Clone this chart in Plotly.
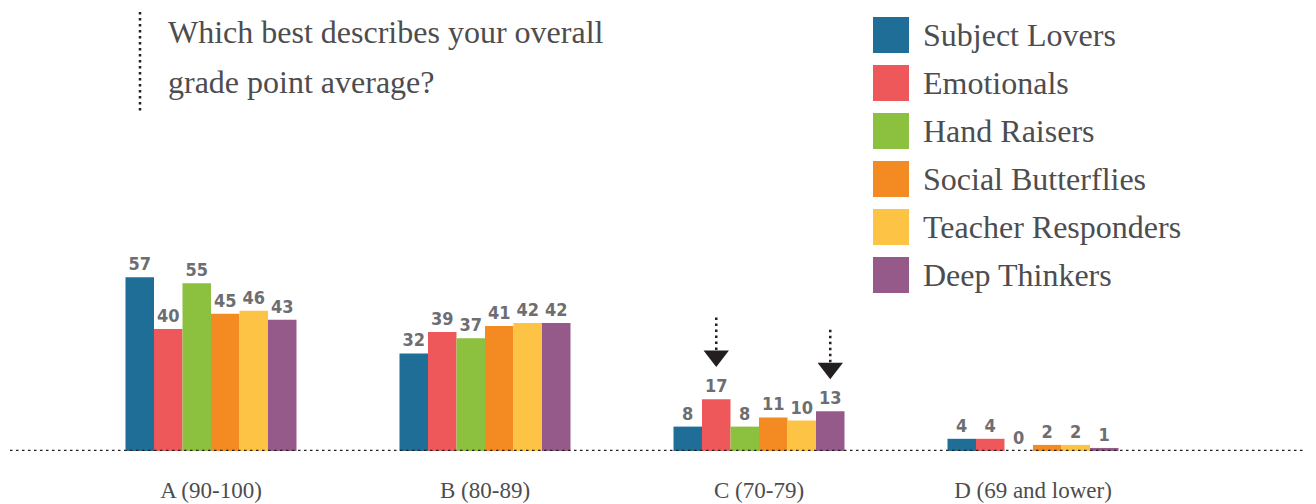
import plotly.graph_objects as go

# Survey responses (percent) per GPA bracket for each student type
categories = ["A (90-100)", "B (80-89)", "C (70-79)", "D (69 and lower)"]
series_names = ["Subject Lovers", "Emotionals", "Hand Raisers",
                "Social Butterflies", "Teacher Responders", "Deep Thinkers"]
subject_lovers = [57, 32, 8, 4]
emotionals = [40, 39, 17, 4]
hand_raisers = [55, 37, 8, 0]
social_butterflies = [45, 41, 11, 2]
teacher_responders = [46, 42, 10, 2]
deep_thinkers = [43, 42, 13, 1]
series_values = [subject_lovers, emotionals, hand_raisers,
                 social_butterflies, teacher_responders, deep_thinkers]
colors = ["#1f6e97", "#ef585b", "#8bc13f", "#f48a22", "#fdc344", "#955a89"]

title_lines = ["Which best describes your overall", "grade point average?"]

# Bars highlighted with arrows: (category index, series index)
highlights = [(2, 1), (2, 5)]

W, H = 1316, 504
BASE_PX = 451          # baseline pixel row
PX_PER_UNIT = 3.05
GROUP_PX = 274         # distance between category centres
FIRST_PX = 211         # centre of the first category
BAR_PX = 28.5

SERIF = "Liberation Serif, DejaVu Serif"
TEXT_COL = "#4d4d4f"
DOT = dict(color="#231f20", width=2.5, dash="2.5px,3.5px")

x_pos = list(range(len(categories)))
bar_w = BAR_PX / GROUP_PX
n = len(series_names)

fig = go.Figure()
for name, vals, col in zip(series_names, series_values, colors):
    fig.add_trace(go.Bar(
        x=x_pos, y=vals, name=name, marker=dict(color=col, line=dict(width=0)),
        text=[str(v) for v in vals], textposition="outside", cliponaxis=False,
        textfont=dict(family="DejaVu Sans Condensed, Liberation Sans Narrow, DejaVu Sans",
                      size=18, color="#6d6e71", weight="bold"),
        showlegend=False,
    ))

# Arrows pointing at highlighted bars
for ci, si in highlights:
    xc = x_pos[ci] + (si - (n - 1) / 2) * bar_w
    tip = series_values[si][ci] + 12.5
    tri_h = 11 / PX_PER_UNIT
    fig.add_shape(type="line", xref="x", yref="y", x0=xc, x1=xc,
                  y0=tip + tri_h, y1=tip + tri_h + 34 / PX_PER_UNIT, line=DOT)
    fig.add_trace(go.Scatter(
        x=[xc], y=[tip + tri_h * 0.45], mode="markers", showlegend=False,
        marker=dict(symbol="triangle-down", size=22, color="#231f20"),
        hoverinfo="skip", cliponaxis=False,
    ))

# Dotted baseline across the whole width
fig.add_shape(type="line", xref="paper", yref="y", x0=10 / W, x1=1305 / W, y0=0, y1=0,
              line=DOT, layer="above")

# Title with dotted rule on its left
fig.add_shape(type="line", xref="paper", yref="paper",
              x0=140 / W, x1=140 / W, y0=1 - 12 / BASE_PX, y1=1 - 112 / BASE_PX, line=DOT)
for i, line in enumerate(title_lines):
    fig.add_annotation(xref="paper", yref="paper", x=166 / W, y=1 - (32 + 50 * i) / BASE_PX,
                       xanchor="left", yanchor="middle", showarrow=False, text=line,
                       font=dict(family=SERIF, size=32, color=TEXT_COL))

# Legend drawn as swatches with labels
for i, (name, col) in enumerate(zip(series_names, colors)):
    yc = 35 + 48 * i
    fig.add_shape(type="rect", xref="paper", yref="paper",
                  x0=873 / W, x1=909 / W,
                  y0=1 - (yc + 18) / BASE_PX, y1=1 - (yc - 18) / BASE_PX,
                  fillcolor=col, line=dict(width=0))
    fig.add_annotation(xref="paper", yref="paper", x=921 / W, y=1 - yc / BASE_PX,
                       xanchor="left", yanchor="middle", showarrow=False, text=name,
                       font=dict(family=SERIF, size=32, color=TEXT_COL))

fig.update_layout(
    width=W, height=H,
    margin=dict(l=0, r=0, t=0, b=H - BASE_PX),
    paper_bgcolor="white", plot_bgcolor="white",
    barmode="group", bargap=1 - n * bar_w, bargroupgap=0,
    xaxis=dict(range=[-FIRST_PX / GROUP_PX, (W - FIRST_PX) / GROUP_PX],
               tickvals=x_pos, ticktext=categories, showgrid=False, zeroline=False,
               showline=False, ticks="", ticklabelstandoff=23,
               tickfont=dict(family=SERIF, size=23, color=TEXT_COL)),
    yaxis=dict(range=[0, BASE_PX / PX_PER_UNIT], visible=False, showgrid=False, zeroline=False),
    font=dict(family=SERIF),
)

fig.write_html("out.html")
